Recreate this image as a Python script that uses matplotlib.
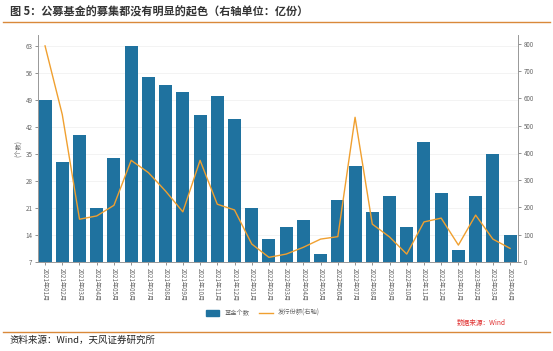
import matplotlib
matplotlib.use("Agg")
import matplotlib.pyplot as plt
from matplotlib.lines import Line2D

plt.rcParams['font.family'] = ['Noto Sans CJK SC', 'DejaVu Sans']

months = ["2021年01月", "2021年02月", "2021年03月", "2021年04月", "2021年05月", "2021年06月",
          "2021年07月", "2021年08月", "2021年09月", "2021年10月", "2021年11月", "2021年12月",
          "2022年01月", "2022年02月", "2022年03月", "2022年04月", "2022年05月", "2022年06月",
          "2022年07月", "2022年08月", "2022年09月", "2022年10月", "2022年11月", "2022年12月",
          "2023年01月", "2023年02月", "2023年03月", "2023年04月"]
fund_count = [49, 33, 40, 21, 34, 63, 55, 53, 51, 45, 50, 44,
              21, 13, 16, 18, 9, 23, 32, 20, 24, 16, 38, 25,
              10, 24, 35, 14]
issue_share = [793, 541, 157, 169, 208, 373, 328, 260, 184, 373, 212, 191,
               66, 17, 29, 54, 84, 93, 531, 139, 92, 29, 147, 161,
               62, 172, 84, 50]

bar_color = "#1f729f"
line_color = "#f0a030"
grey = "#666666"

fig = plt.figure(figsize=(5.53, 3.51), dpi=100)
ax = fig.add_axes([0.0687, 0.2536, 0.868, 0.6467])
ax2 = ax.twinx()

x = list(range(len(months)))
ax.bar(x, fund_count, width=0.75, color=bar_color, bottom=0, zorder=2)
ax2.plot(x, issue_share, color=line_color, lw=1.0, zorder=3)

ax.set_xlim(-0.41, 27.46)
ax.set_ylim(7, 65.85)
ax2.set_ylim(0, 833)
ax.set_yticks(range(7, 64, 7))
ax2.set_yticks(range(0, 801, 100))
ax.set_xticks(x)
ax.set_xticklabels(months, rotation=-90, fontsize=4.3, color=grey)
ax.grid(axis='y', color='#eeeeee', lw=0.5, zorder=0)
ax.set_axisbelow(True)

for a in (ax, ax2):
    a.spines['top'].set_visible(False)
    for s in ('left', 'right', 'bottom'):
        a.spines[s].set_color('#999999')
        a.spines[s].set_linewidth(0.6)
    a.tick_params(labelsize=4.5, colors=grey, length=2.5, width=0.5, pad=1.5)
ax.tick_params(axis='x', pad=2)
ax.set_ylabel("(个数)", fontsize=4.5, color=grey, labelpad=2)

handles = [plt.Rectangle((0, 0), 1, 1, color=bar_color),
           Line2D([0], [0], color=line_color, lw=1.0)]
fig.legend(handles, ["基金个数", "发行份额(右轴)"], loc='center', bbox_to_anchor=(0.475, 0.108),
           ncol=2, frameon=False, fontsize=4.5, handlelength=2.2, handleheight=0.9,
           columnspacing=1.5, labelcolor=grey)

fig.text(0.915, 0.08, "数据来源：Wind", color="#e03030", fontsize=4.8, ha='right', va='center')

fig.text(0.018, 0.965, "图 5：公募基金的募集都没有明显的起色（右轴单位：亿份）", fontsize=8,
         fontweight='bold', color="#333333", ha='left', va='center')
fig.add_artist(Line2D([0.005, 0.995], [0.937, 0.937], color="#d9893a", lw=1.0))
fig.add_artist(Line2D([0.005, 0.995], [0.054, 0.054], color="#d9893a", lw=1.0))
fig.text(0.018, 0.03, "资料来源：Wind，天风证券研究所", fontsize=6.8, color="#222222",
         ha='left', va='center')

fig.savefig("out.png", dpi=100)
